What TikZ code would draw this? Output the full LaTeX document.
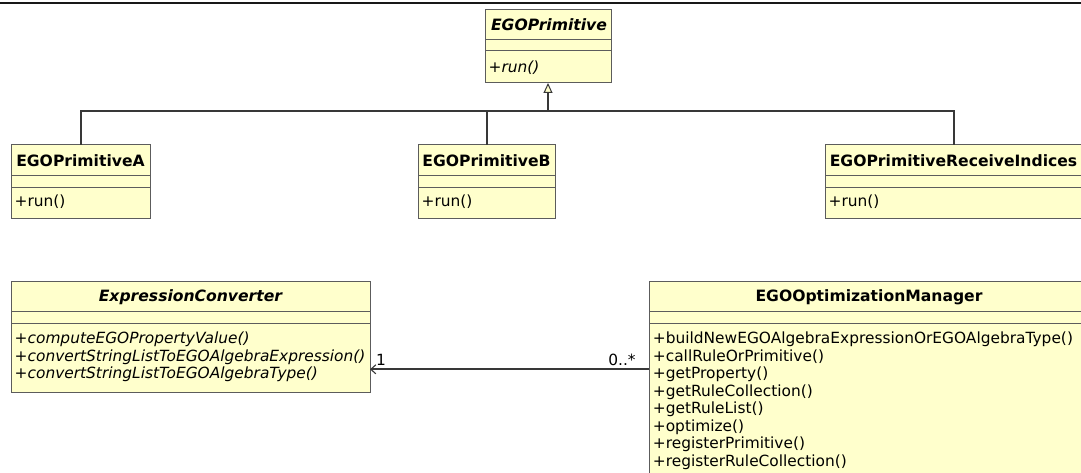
\documentclass[tikz,border=0pt]{standalone}
\usepackage{fontspec}
\setmainfont{DejaVu Sans}[
  BoldFont={DejaVu Sans Bold},
  ItalicFont={DejaVu Sans Oblique},
  BoldItalicFont={DejaVu Sans Bold Oblique}]
\usetikzlibrary{arrows.meta}

\definecolor{classfill}{RGB}{255,255,204}
\definecolor{classline}{RGB}{92,92,92}
\definecolor{linkline}{RGB}{56,56,56}
\definecolor{frameline}{RGB}{24,24,24}

\newcommand\umlfont{\fontsize{15.4}{17.5}\selectfont}
\newcommand\umltitlefont{\fontsize{15.6}{17.5}\selectfont}

\tikzset{
  classbox/.style={rectangle, draw=classline, fill=classfill, line width=1pt,
    inner sep=0pt, outer sep=0pt, anchor=north west},
  compart/.style={draw=classline, line width=1pt},
  ctitle/.style={inner sep=0pt, anchor=base, font=\umltitlefont\bfseries},
  abstitle/.style={inner sep=0pt, anchor=base, font=\umltitlefont\bfseries\itshape},
  member/.style={inner sep=0pt, anchor=base west, font=\umlfont},
  absmember/.style={inner sep=0pt, anchor=base west, font=\umlfont\itshape},
  multiplicity/.style={inner sep=0pt, anchor=base, font=\umlfont},
  generalization/.style={draw=linkline, line width=2pt,
    -{Triangle[open, length=10pt, width=9pt, line width=1pt, fill=classfill]}},
  tree/.style={draw=linkline, line width=2pt},
  association/.style={draw=linkline, line width=2pt,
    -{Straight Barb[length=5pt, width=9pt, line width=1.1pt]}},
}

% class box: name, left, top, width, height
\newcommand\umlclass[5]{%
  \node[classbox, minimum width=#4pt, minimum height=#5pt] (#1) at (#2,#3) {};}
% compartment separators: name, first offset, second offset
\newcommand\umlsep[3]{%
  \draw[compart] ([yshift=-#2pt]#1.north west) -- ([yshift=-#2pt]#1.north east);
  \draw[compart] ([yshift=-#3pt]#1.north west) -- ([yshift=-#3pt]#1.north east);}

\begin{document}
\begin{tikzpicture}[x=1pt, y=-1pt]
  \useasboundingbox[fill=white] (0,0) rectangle (1081,473);
  \clip (0,0) rectangle (1081,473);

  % frame rule along the top
  \draw[frameline, line width=2pt] (0,2.7) -- (1081,2.7);

  % abstract base class
  \umlclass{prim}{485}{10}{126}{73}
  \umlsep{prim}{30}{41}
  \node[abstitle] (primT) at (549,30.5) {EGOPrimitive};
  \node[absmember] (primM) at (488.5,73) {+run()};

  % concrete primitives
  \umlclass{pa}{11}{145}{139}{73}
  \umlsep{pa}{31}{43}
  \node[ctitle] (paT) at (80.5,167) {EGOPrimitiveA};
  \node[member] (paM) at (14.5,206.7) {+run()};

  \umlclass{pb}{418}{145}{137}{73}
  \umlsep{pb}{31}{43}
  \node[ctitle] (pbT) at (486.5,167) {EGOPrimitiveB};
  \node[member] (pbM) at (421.5,206.7) {+run()};

  \umlclass{pr}{825}{145}{257}{73}
  \umlsep{pr}{31}{43}
  \node[ctitle] (prT) at (953.5,167) {EGOPrimitiveReceiveIndices};
  \node[member] (prM) at (828.5,206.7) {+run()};

  % inheritance tree
  \coordinate (bus) at (548,111.5);
  \draw[tree] (pa.north) -- (pa.north |- bus) -- (pr.north |- bus) -- (pr.north);
  \draw[tree] (pb.north) -- (pb.north |- bus);
  \draw[generalization] (bus) -- (prim.south);

  % converter
  \umlclass{conv}{11}{281.5}{359}{111}
  \umlsep{conv}{30}{42}
  \node[abstitle] (convT) at (190.5,301.5) {ExpressionConverter};
  \foreach \t [count=\i from 0] in {%
      +computeEGOPropertyValue(),
      +convertStringListToEGOAlgebraExpression(),
      +convertStringListToEGOAlgebraType()}
    \node[absmember] (convM\i) at (14.5,343.7+17.5*\i) {\t};

  % optimization manager
  \umlclass{mgr}{649}{281.5}{440}{250}
  \umlsep{mgr}{30}{42}
  \node[ctitle] (mgrT) at (869,301.5) {EGOOptimizationManager};
  \foreach \t [count=\i from 0] in {%
      +buildNewEGOAlgebraExpressionOrEGOAlgebraType(),
      +callRuleOrPrimitive(),
      +getProperty(),
      +getRuleCollection(),
      +getRuleList(),
      +optimize(),
      +registerPrimitive(),
      +registerRuleCollection()}
    \node[member] (mgrM\i) at (652.7,343.7+17.5*\i) {\t};

  % association manager -> converter
  \coordinate (assocY) at (0,369.3);
  \draw[association] (mgr.west |- assocY) -- (conv.east |- assocY);
  \node[multiplicity] (multConv) at (381,365.5) {1};
  \node[multiplicity] (multMgr) at (622,365.5) {0..*};
\end{tikzpicture}
\end{document}
